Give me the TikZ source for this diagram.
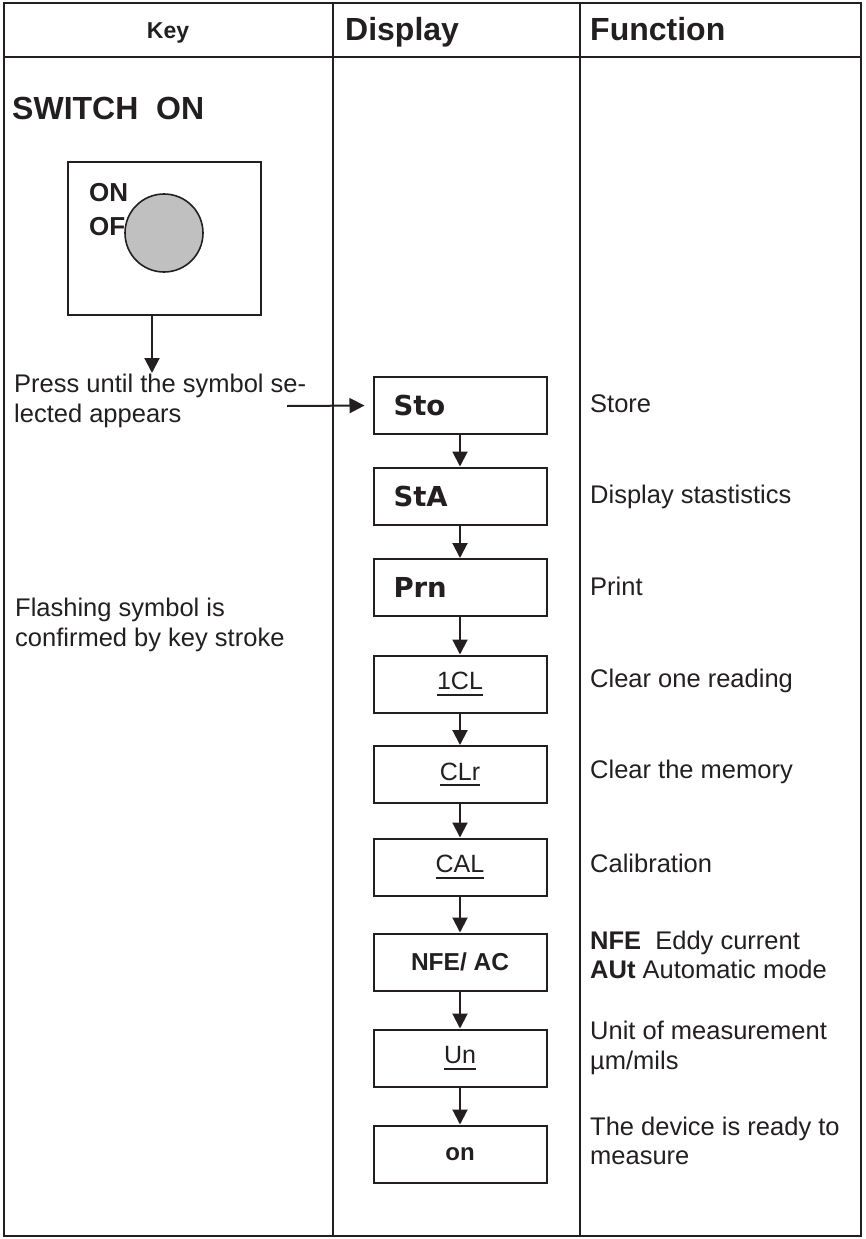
\documentclass[tikz,border=0pt]{standalone}
\usepackage{fontspec}
\setmainfont{Liberation Sans}
\newfontfamily\dispfont{DejaVu Sans}
\usetikzlibrary{arrows.meta,positioning}
\definecolor{inkblack}{RGB}{35,31,32}
\definecolor{knobgray}{RGB}{192,192,192}
\newcommand\undl[1]{\leavevmode\setbox0\hbox{#1}\rlap{\rule[-6pt]{\wd0}{1.8pt}}\box0}
\tikzset{
	grid/.style={line width=2pt},
	dispbox/.style={draw, line width=2pt, minimum width=173pt, minimum height=57pt, inner sep=0pt},
	flow/.style={line width=2pt, -{Triangle[width=15pt,length=15pt]}},
	txt/.style={inner sep=0pt, align=left, font=\fontsize{25.5}{29.5}\selectfont},
	hdr/.style={inner sep=0pt, font=\bfseries\fontsize{32}{36}\selectfont},
	bigsym/.style={dispbox, text width=133pt, align=left, font=\dispfont\bfseries\fontsize{27.5}{32}\selectfont},
	smallsym/.style={dispbox, align=center, font=\fontsize{25}{30}\selectfont},
}

\begin{document}
\begin{tikzpicture}[x=1pt,y=-1pt,color=inkblack]
	\useasboundingbox (0,0) rectangle (865,1239);
	% table
	\draw[grid] (4,3) rectangle (861,1236);
	\draw[grid] (4,57) -- (861,57);
	\draw[grid] (333,3) -- (333,1236);
	\draw[grid] (580,3) -- (580,1236);

	\node[inner sep=0pt, anchor=base, font=\bfseries\fontsize{23}{27}\selectfont] (hkey) at (168,38) {Key};
	\node[hdr, anchor=base west] (hdisp) at (345,41) {Display};
	\node[hdr, anchor=base west] (hfunc) at (590,41) {Function};

	% key column
	\node[inner sep=0pt, anchor=base west, font=\bfseries\fontsize{32}{36}\selectfont] (switchon) at (12,119) {SWITCH~ ON};
	\node[draw, line width=2pt, minimum width=193pt, minimum height=153pt] (switch) at (164.5,238.5) {};
	\node[inner sep=0pt, anchor=west, font=\bfseries\fontsize{26}{30}\selectfont] (onlbl) at (89,193) {ON};
	\node[inner sep=0pt, anchor=west, font=\bfseries\fontsize{26}{30}\selectfont] (offlbl) at (89,227) {OF};
	\node[circle, draw, line width=1.6pt, fill=knobgray, minimum size=78pt] (knob) at (164,233) {};
	\coordinate (swout) at (152,315);
	\coordinate (presstop) at (152,373);
	\draw[flow] (swout) -- (presstop);
	\node[txt, anchor=north west] (press) at (14,374) {Press until the symbol se-\\lected appears};
	\coordinate (pressend) at (287,406);
	\node[txt, anchor=north west] (flash) at (15,598) {Flashing symbol is\\confirmed by key stroke};

	% display column
	\node[bigsym] (sto) at (460,405.5) {Sto};
	\node[bigsym] (sta) at (460,496) {StA};
	\node[bigsym] (prn) at (460,587.5) {Prn};
	\node[smallsym] (onecl) at (460,684) {\undl{1CL}};
	\node[smallsym] (clr) at (460,774.5) {\undl{CLr}};
	\node[smallsym] (cal) at (460,867) {\undl{CAL}};
	\node[smallsym, font=\bfseries\fontsize{24.5}{30}\selectfont] (nfe) at (460,962) {NFE/ AC};
	\node[smallsym] (un) at (460,1058) {\undl{Un}};
	\node[smallsym, font=\bfseries\fontsize{24}{30}\selectfont] (on) at (460,1154) {on};

	\draw[flow, shorten >=8pt] (pressend) -- (sto.west);
	\draw[flow] (sto) -- (sta);
	\draw[flow] (sta) -- (prn);
	\draw[flow] (prn) -- (onecl);
	\draw[flow] (onecl) -- (clr);
	\draw[flow] (clr) -- (cal);
	\draw[flow] (cal) -- (nfe);
	\draw[flow] (nfe) -- (un);
	\draw[flow] (un) -- (on);

	% function column
	\node[txt, anchor=west] (fsto) at (590,404) {Store};
	\node[txt, anchor=west] (fsta) at (590,497) {Display stastistics};
	\node[txt, anchor=west] (fprn) at (590,586) {Print};
	\node[txt, anchor=west] (fonecl) at (590,681) {Clear one reading};
	\node[txt, anchor=west] (fclr) at (590,772) {Clear the memory};
	\node[txt, anchor=west] (fcal) at (590,863) {Calibration};
	\node[txt, anchor=west] (fnfe) at (590,955) {\textbf{NFE}~ Eddy current\\\textbf{AUt} Automatic mode};
	\node[txt, anchor=west] (fun) at (590,1048) {Unit of measurement\\µm/mils};
	\node[txt, anchor=west] (fon) at (590,1141) {The device is ready to\\measure};
\end{tikzpicture}
\end{document}
